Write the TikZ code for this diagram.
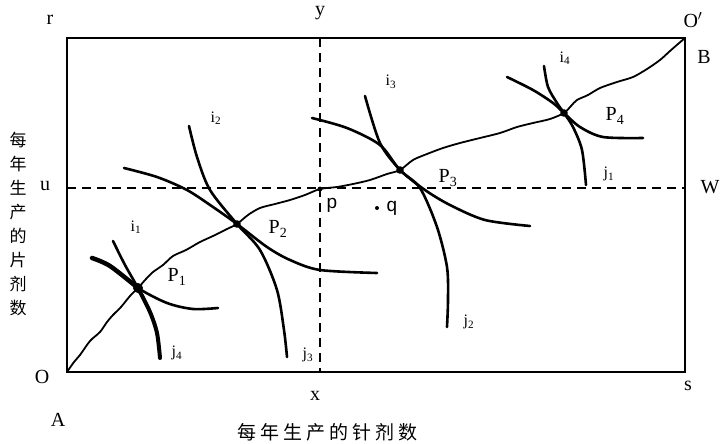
\documentclass[tikz,border=0pt]{standalone}
\usepackage{fontspec}
\setmainfont{Liberation Serif}
\setsansfont{Liberation Sans}
\newfontfamily\cjk{Noto Sans CJK SC}
\tikzset{
  frame/.style={line width=1.4pt},
  guide/.style={line width=2.2pt, dash pattern=on 9pt off 6pt},
  icurve/.style={line width=2.6pt, line cap=round, line join=round},
  ccurve/.style={line width=1.8pt, line join=round},
  lbl/.style={font=\fontsize{20}{20}\selectfont, inner sep=0pt},
  ijlbl/.style={font=\fontsize{16}{16}\selectfont, inner sep=0pt},
  pqlbl/.style={font=\sffamily\fontsize{19}{19}\selectfont, inner sep=0pt},
  cjklbl/.style={font=\cjk\fontsize{19}{19}\selectfont, inner sep=0pt},
}

\begin{document}
\begin{tikzpicture}[x=1pt, y=-1pt]
  \useasboundingbox (0,0) rectangle (721,444);
  \coordinate (O)  at (67,372);
  \coordinate (Op) at (685,38);
  \coordinate (P1) at (138,288);
  \coordinate (P2) at (237,224);
  \coordinate (p)  at (320,189);
  \coordinate (P3) at (400,170);
  \coordinate (P4) at (564,113);
  \coordinate (u)  at (67,188);
  \coordinate (w)  at (685,188);
  \coordinate (y)  at (320,38);
  \coordinate (x)  at (320,372);
  % box and guide lines
  \draw[frame] (O) rectangle (Op);
  \draw[guide] (u) -- (w);
  \draw[guide] (y) -- (x);
  % contract curve
  \draw[ccurve] plot[smooth] coordinates {(O) (74,362) (80,355) (90,341) (100,332)
    (107,322) (113,315) (121,307) (130,296) (P1) (146,279) (153,272) (163,265)
    (173,256) (186,250) (200,242) (213,236) (227,229) (P2) (248,215) (260,208)
    (275,204) (290,200) (305,195) (p) (337,187) (353,184) (370,180) (387,174)
    (P3) (413,160) (427,154) (443,148) (460,143) (480,138) (500,133) (517,127)
    (533,123) (550,119) (P4) (571,106) (577,100) (588,95) (600,88) (617,82)
    (633,77) (647,69) (660,60) (670,51) (678,44) (Op)};
  % i curves
  \draw[icurve, line width=4.5pt] plot[smooth] coordinates {(92,258) (110,266) (P1)};
  \draw[icurve] plot[smooth] coordinates {(92,258) (110,266) (P1) (167,303) (193,309) (218,308)};
  \draw[icurve] plot[smooth] coordinates {(124,168) (157,177) (187,190) (213,207)
    (P2) (267,247) (290,260) (320,270) (377,273)};
  \draw[icurve] plot[smooth] coordinates {(312,118) (347,128) (380,145) (P3)
    (425,190) (450,205) (485,220) (530,226)};
  \draw[icurve] plot[smooth] coordinates {(507,77) (533,90) (553,103) (P4)
    (580,127) (603,137) (643,138)};
  % j curves
  \draw[icurve] plot[smooth] coordinates {(113,241) (125,265) (P1) (150,312) (157,333) (160,358)};
  \draw[icurve, line width=4pt] plot[smooth] coordinates {(P1) (150,312) (157,333) (160,358)};
  \draw[icurve] plot[smooth] coordinates {(189,126) (197,157) (210,190) (P2)
    (260,250) (277,290) (284,330) (287,357)};
  \draw[icurve] plot[smooth] coordinates {(365,96) (380,143) (P3) (420,188)
    (437,227) (447,267) (448,300) (447,327)};
  \draw[icurve] plot[smooth] coordinates {(544,66) (548,87) (557,103) (P4)
    (573,127) (582,150) (586,185)};
  % tangency points
  \fill (P1) circle (5pt);
  \foreach \n in {P2, P3, P4}
    \fill (\n) circle (3.8pt);
  \fill (p) circle (2.4pt);
  \coordinate (qdot) at (377,208);
  \fill (qdot) circle (2pt);
  % corner and axis labels
  \node[lbl] (lr)  at (50,20)   {r};
  \node[lbl] (ly)  at (320,13)  {y};
  \node[lbl] (lOp) at (693,20)  {O$'$};
  \node[lbl] (lB)  at (704,57)  {B};
  \node[lbl] (lu)  at (45,186)  {u};
  \node[lbl] (lW)  at (710,187) {W};
  \node[lbl] (lO)  at (42,377)  {O};
  \node[lbl] (lA)  at (58,420)  {A};
  \node[lbl] (lx)  at (315,396) {x};
  \node[lbl] (ls)  at (688,386) {s};
  % point labels
  \node[lbl] (lP1) at (177,277) {P\textsubscript{1}};
  \node[lbl] (lP2) at (278,229) {P\textsubscript{2}};
  \node[lbl] (lP3) at (448,178) {P\textsubscript{3}};
  \node[lbl] (lP4) at (615,116) {P\textsubscript{4}};
  \node[pqlbl] (lp) at (332,205) {p};
  \node[pqlbl] (lq) at (392,208) {q};
  % curve labels
  \node[ijlbl] (li1) at (136,227) {i\textsubscript{1}};
  \node[ijlbl] (li2) at (216,118) {i\textsubscript{2}};
  \node[ijlbl] (li3) at (391,82)  {i\textsubscript{3}};
  \node[ijlbl] (li4) at (565,58)  {i\textsubscript{4}};
  \node[ijlbl] (lj1) at (609,174) {j\textsubscript{1}};
  \node[ijlbl] (lj2) at (469,322) {j\textsubscript{2}};
  \node[ijlbl] (lj3) at (308,355) {j\textsubscript{3}};
  \node[ijlbl] (lj4) at (177,353) {j\textsubscript{4}};
  % axis titles
  \foreach \c [count=\k] in {每,年,生,产,的,片,剂,数}
    \node[cjklbl, font=\cjk\fontsize{17}{17}\selectfont] (yt\k) at (18,116+24*\k) {\c};
  \foreach \c [count=\k] in {每,年,生,产,的,针,剂,数}
    \node[cjklbl] (xt\k) at (223.4+23.1*\k,432) {\c};
\end{tikzpicture}
\end{document}
